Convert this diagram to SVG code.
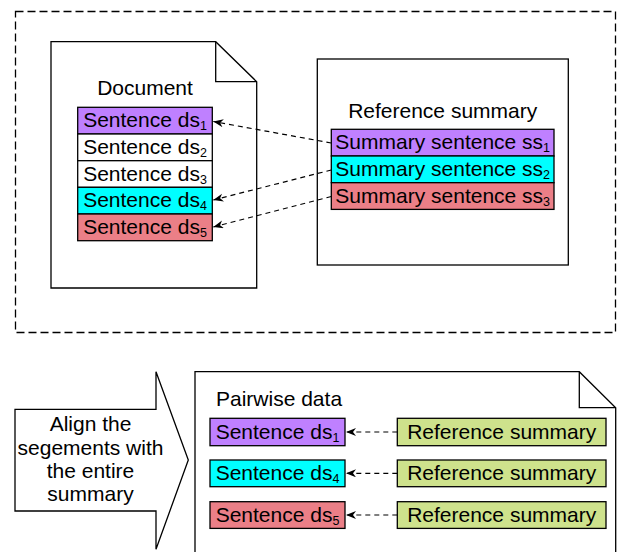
<svg xmlns="http://www.w3.org/2000/svg" width="622" height="552" viewBox="0 0 622 552">
<style>
text{font-family:"Liberation Sans",Arial,sans-serif;font-size:21px;fill:#000}
.sub{font-size:12.5px}
.box{stroke:#000;stroke-width:1.3}
.shape{fill:#fff;stroke:#000;stroke-width:1.3}
.conn{fill:none;stroke:#000;stroke-width:1.2;stroke-dasharray:5 4}
.p{fill:#bf80ff}.c{fill:#00ffff}.r{fill:#eb7f87}.w{fill:#fff}.g{fill:#cee28c}
</style>
<defs>
<marker id="ah" markerUnits="userSpaceOnUse" markerWidth="11" markerHeight="9" refX="10" refY="4" orient="auto" viewBox="0 0 11 9">
<path d="M10,4 L0,0 L3,4 L0,8 Z" fill="#000"/>
</marker>
</defs>
<g id="outer">
<rect x="15.5" y="11.5" width="600" height="321" fill="none" stroke="#000" stroke-width="1.3" stroke-dasharray="8 4"/>
</g>
<g id="document">
<path class="shape" d="M51,41.7 H215.7 L256.7,81.7 V288 H51 Z"/>
<path fill="none" stroke="#000" stroke-width="1.3" d="M215.7,41.7 V81.7 H256.7"/>
<text x="145" y="95" text-anchor="middle">Document</text>
</g>
<g id="ds1"><rect class="box p" x="77.7" y="107.3" width="134.6" height="26.7"/><text x="145" y="127.3" text-anchor="middle">Sentence ds<tspan class="sub" dy="3">1</tspan></text></g>
<g id="ds2"><rect class="box w" x="77.7" y="134" width="134.6" height="26.7"/><text x="145" y="154" text-anchor="middle">Sentence ds<tspan class="sub" dy="3">2</tspan></text></g>
<g id="ds3"><rect class="box w" x="77.7" y="160.7" width="134.6" height="26.7"/><text x="145" y="180.7" text-anchor="middle">Sentence ds<tspan class="sub" dy="3">3</tspan></text></g>
<g id="ds4"><rect class="box c" x="77.7" y="187.3" width="134.6" height="26.7"/><text x="145" y="207.3" text-anchor="middle">Sentence ds<tspan class="sub" dy="3">4</tspan></text></g>
<g id="ds5"><rect class="box r" x="77.7" y="214" width="134.6" height="26.7"/><text x="145" y="234" text-anchor="middle">Sentence ds<tspan class="sub" dy="3">5</tspan></text></g>
<g id="refsummary">
<rect class="shape" x="317.3" y="59" width="251" height="206"/>
<text x="442.7" y="118.3" text-anchor="middle">Reference summary</text>
</g>
<g id="ss1"><rect class="box p" x="331.3" y="129.3" width="222.7" height="26.7"/><text x="442.7" y="149.3" text-anchor="middle">Summary sentence ss<tspan class="sub" dy="3">1</tspan></text></g>
<g id="ss2"><rect class="box c" x="331.3" y="156" width="222.7" height="26.7"/><text x="442.7" y="176" text-anchor="middle">Summary sentence ss<tspan class="sub" dy="3">2</tspan></text></g>
<g id="ss3"><rect class="box r" x="331.3" y="182.7" width="222.7" height="26.7"/><text x="442.7" y="202.7" text-anchor="middle">Summary sentence ss<tspan class="sub" dy="3">3</tspan></text></g>
<g id="blockarrow">
<path class="shape" d="M15,409.3 H156 V371.7 L188.3,460 L156,549.3 V511 H15 Z"/>
<text x="90.5" y="431" text-anchor="middle">Align the</text>
<text x="90.5" y="454.5" text-anchor="middle">segements with</text>
<text x="90.5" y="478" text-anchor="middle">the entire</text>
<text x="90.5" y="501" text-anchor="middle">summary</text>
</g>
<g id="pairwise">
<path class="shape" d="M195,560 V371.7 H579.3 L615.7,407.7 V560"/>
<path fill="none" stroke="#000" stroke-width="1.3" d="M579.3,371.7 V407.7 H615.7"/>
<text x="216" y="406">Pairwise data</text>
</g>
<g id="p1"><rect class="box p" x="210" y="418.3" width="135" height="27.4"/><text x="277.5" y="438.6" text-anchor="middle">Sentence ds<tspan class="sub" dy="3">1</tspan></text></g>
<g id="p4"><rect class="box c" x="210" y="460" width="135" height="26.7"/><text x="277.5" y="480" text-anchor="middle">Sentence ds<tspan class="sub" dy="3">4</tspan></text></g>
<g id="p5"><rect class="box r" x="210" y="501.7" width="135" height="26.7"/><text x="277.5" y="521.7" text-anchor="middle">Sentence ds<tspan class="sub" dy="3">5</tspan></text></g>
<g id="g1"><rect class="box g" x="397.3" y="418.3" width="208.7" height="27.4"/><text x="501.7" y="438.6" text-anchor="middle">Reference summary</text></g>
<g id="g2"><rect class="box g" x="397.3" y="460" width="208.7" height="26.7"/><text x="501.7" y="480" text-anchor="middle">Reference summary</text></g>
<g id="g3"><rect class="box g" x="397.3" y="501.7" width="208.7" height="26.7"/><text x="501.7" y="521.7" text-anchor="middle">Reference summary</text></g>
<g id="connectors">
<line class="conn" x1="331.3" y1="143" x2="213.3" y2="121.5" marker-end="url(#ah)"/>
<line class="conn" x1="331.3" y1="170" x2="213.3" y2="200" marker-end="url(#ah)"/>
<line class="conn" x1="331.3" y1="196.5" x2="213.3" y2="227" marker-end="url(#ah)"/>
<line class="conn" x1="397.3" y1="432" x2="346" y2="432" marker-end="url(#ah)"/>
<line class="conn" x1="397.3" y1="473.3" x2="346" y2="473.3" marker-end="url(#ah)"/>
<line class="conn" x1="397.3" y1="515" x2="346" y2="515" marker-end="url(#ah)"/>
</g>
</svg>
